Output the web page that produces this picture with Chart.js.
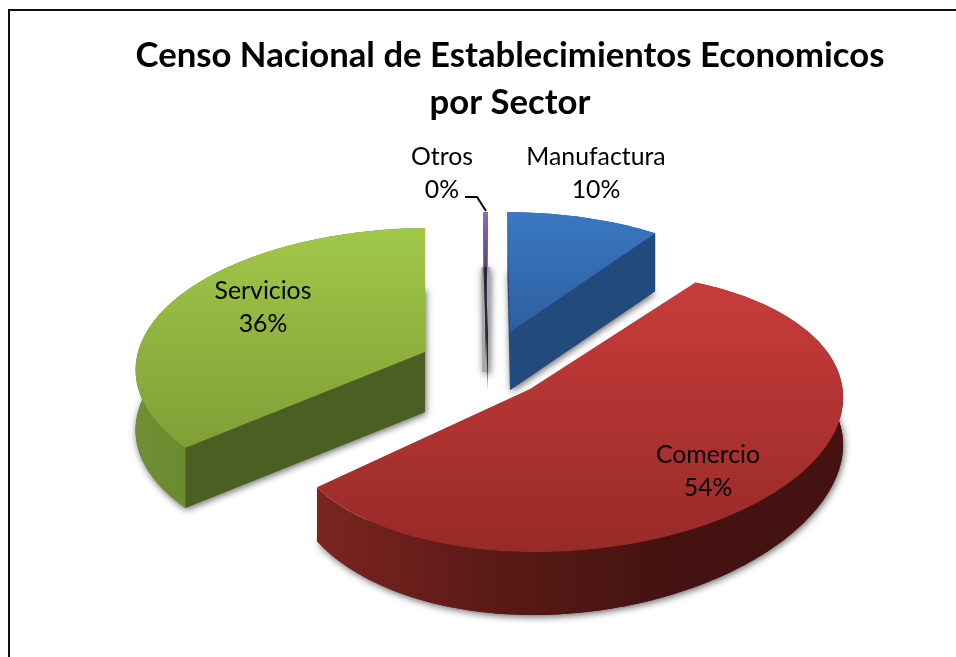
<!DOCTYPE html>
<html><head><meta charset="utf-8">
<style>html,body{margin:0;padding:0;background:#fff}canvas{display:block}</style>
<script src="https://cdn.jsdelivr.net/npm/chart.js@4"></script>
</head><body><canvas id="c" width="956" height="657"></canvas>
<script>
const titleLines = ["Censo Nacional de Establecimientos Economicos", "por Sector"];
const categories = ["Manufactura", "Comercio", "Servicios", "Otros"];
const shares = [10, 53.8, 35.9, 0.3];

// 3D look of each slice: where it sits on the page and how its disc is foreshortened.
const looks = [
  {ax:510, ay:332, rx:273, ry:133, k:.11, m:0, t:3, w:0, depth:58, dr:0,
   top:["#3b78c2","#2c5f9f"], wall:["#2a5288","#234a7c"], cut:"#234a7c", label:[596,157]},
  {ax:535, ay:391, rx:270, ry:135, k:.16, m:.117, t:-14, w:-10, depth:63, dr:.25, apex:[530,389],
   top:["#c83c3a","#972a28"], wall:["#7c2420","#5a1a16","#441210","#441210"], cut:"#441210", label:[708,455]},
  {ax:425, ay:352, rx:287, ry:137.6, k:.11, m:0, t:-5.5, w:0, depth:60, dr:0,
   top:["#a0c848","#7f9f36"], wall:["#6f8f33","#5b7428"], cut:"#4c5f22", label:[263,291]},
  {ax:488, ay:332, rx:270, ry:133, k:.11, m:0, t:0, w:0, depth:58, dr:0,
   top:["#8a6db0","#5a4678"], wall:["#30263c","#30263c"], cut:"#30263c", label:[442,157]}
];

function project(l, u, v, sink) {
  const d = 1 - l.k * v - l.m * u;
  const dy = sink ? l.depth * (1 - l.dr * u * u) : 0;
  return [l.ax + (l.rx * u + l.t * v) / d, l.ay + (l.ry * v + l.w * u) / d + dy];
}
function arcPts(l, a0, a1, sink) {
  const pts = [], n = Math.max(2, Math.ceil(Math.abs(a1 - a0) / 0.02));
  for (let i = 0; i <= n; i++) {
    const a = a0 + (a1 - a0) * i / n;
    pts.push(project(l, Math.cos(a), Math.sin(a), sink));
  }
  return pts;
}
function poly(ctx, pts) {
  ctx.beginPath();
  pts.forEach((p, i) => i ? ctx.lineTo(p[0], p[1]) : ctx.moveTo(p[0], p[1]));
  ctx.closePath();
}

const pie3d = {
  id: "pie3d",
  beforeDatasetsDraw(chart) {
    const ctx = chart.ctx;
    const arcs = chart.getDatasetMeta(0).data;
    arcs.forEach((arc, i) => {
      const l = looks[i];
      const {startAngle: s, endAngle: e} = arc.getProps(["startAngle", "endAngle"], true);
      const sliver = e - s < 0.1;
      const apex = l.apex || project(l, 0, 0);
      const rim = arcPts(l, s, e);
      const rimLow = arcPts(l, s, e, true);
      const face = [apex].concat(rim);
      const apexLow = [apex[0], apex[1] + l.depth];
      const a = rim[0], b = rim[rim.length - 1];
      const base = sliver
        ? [[a[0] - 2, a[1] + 55], [b[0] + 2, b[1] + 55], [b[0] + 1, apex[1] + 40], [a[0] - 1, apex[1] + 40]]
        : [apexLow].concat(rimLow);

      // soft shadow under the base
      ctx.save();
      ctx.shadowColor = "rgba(0,0,0,.6)";
      ctx.shadowBlur = 7;
      ctx.shadowOffsetX = 1;
      ctx.shadowOffsetY = 2;
      ctx.fillStyle = sliver ? "#a8a8a8" : l.cut;
      poly(ctx, base); ctx.fill();
      ctx.restore();

      // outer wall
      const xs = rim.map(p => p[0]);
      const g = ctx.createLinearGradient(Math.min(...xs), 0, Math.max(...xs), 0);
      l.wall.forEach((c, j) => g.addColorStop(j / (l.wall.length - 1), c));
      ctx.fillStyle = g;
      if (!sliver) {
        poly(ctx, rim.concat(rimLow.slice().reverse()));
        ctx.fill();
      }

      // cut faces turned toward the viewer
      const mid = project(l, .5 * Math.cos((s + e) / 2), .5 * Math.sin((s + e) / 2));
      [a, b].forEach(p => {
        const ex = p[0] - apex[0];
        if (Math.abs(ex) < 3) return;
        const lineY = apex[1] + (p[1] - apex[1]) * (mid[0] - apex[0]) / ex;
        if (mid[1] < lineY) {
          ctx.fillStyle = l.cut;
          poly(ctx, [apex, p, [p[0], p[1] + l.depth], apexLow]);
          ctx.fill();
        }
      });
      if (sliver) {
        ctx.fillStyle = l.cut;
        poly(ctx, [a, b, [(a[0] + b[0]) / 2, apex[1] + l.depth - 30]]);
        ctx.fill();
      }

      // top surface
      const topPts = sliver
        ? [a, b, [b[0] - .4, apex[1] - 65], [a[0] + .4, apex[1] - 65]]
        : face;
      const ys = topPts.map(p => p[1]);
      const tg = ctx.createLinearGradient(0, Math.min(...ys), 0, Math.max(...ys));
      tg.addColorStop(0, l.top[0]); tg.addColorStop(1, l.top[1]);
      ctx.fillStyle = tg;
      poly(ctx, topPts);
      ctx.fill();
    });
    return false;
  },
  afterDraw(chart) {
    const ctx = chart.ctx;
    const values = chart.data.datasets[0].data;
    const total = values.reduce((a, b) => a + b, 0);
    ctx.save();
    ctx.fillStyle = "#000";
    ctx.font = '24.8px Lato, sans-serif';
    ctx.textAlign = "center";
    ctx.textBaseline = "middle";
    values.forEach((v, i) => {
      const [x, y] = looks[i].label;
      ctx.fillText(chart.data.labels[i], x, y);
      ctx.fillText(Math.round(v / total * 100) + "%", x, y + 33);
    });
    // leader for the smallest slice
    ctx.strokeStyle = "#000";
    ctx.lineWidth = 2;
    ctx.beginPath();
    ctx.moveTo(465, 197); ctx.lineTo(477, 197); ctx.lineTo(486, 211);
    ctx.stroke();
    ctx.restore();
  }
};

const frame = {
  id: "frame",
  beforeDraw(chart) {
    const ctx = chart.ctx;
    ctx.save();
    ctx.fillStyle = "#fff";
    ctx.fillRect(0, 0, 956, 657);
    ctx.strokeStyle = "#111";
    ctx.lineWidth = 2;
    ctx.beginPath();
    ctx.moveTo(9, 657); ctx.lineTo(9, 10); ctx.lineTo(956, 10);
    ctx.stroke();
    ctx.restore();
  }
};

new Chart(document.getElementById("c"), {
  type: "pie",
  data: {
    labels: categories,
    datasets: [{data: shares, backgroundColor: looks.map(l => l.top[0]), borderWidth: 0}]
  },
  options: {
    responsive: false,
    animation: false,
    layout: {padding: {top: 32, left: 64}},
    plugins: {
      legend: {display: false},
      tooltip: {enabled: false},
      title: {display: true, text: titleLines, color: "#000",
        font: {family: "Lato, sans-serif", size: 34.7, weight: "bold", lineHeight: 1.354}, padding: 0}
    }
  },
  plugins: [frame, pie3d]
});
</script></body></html>
